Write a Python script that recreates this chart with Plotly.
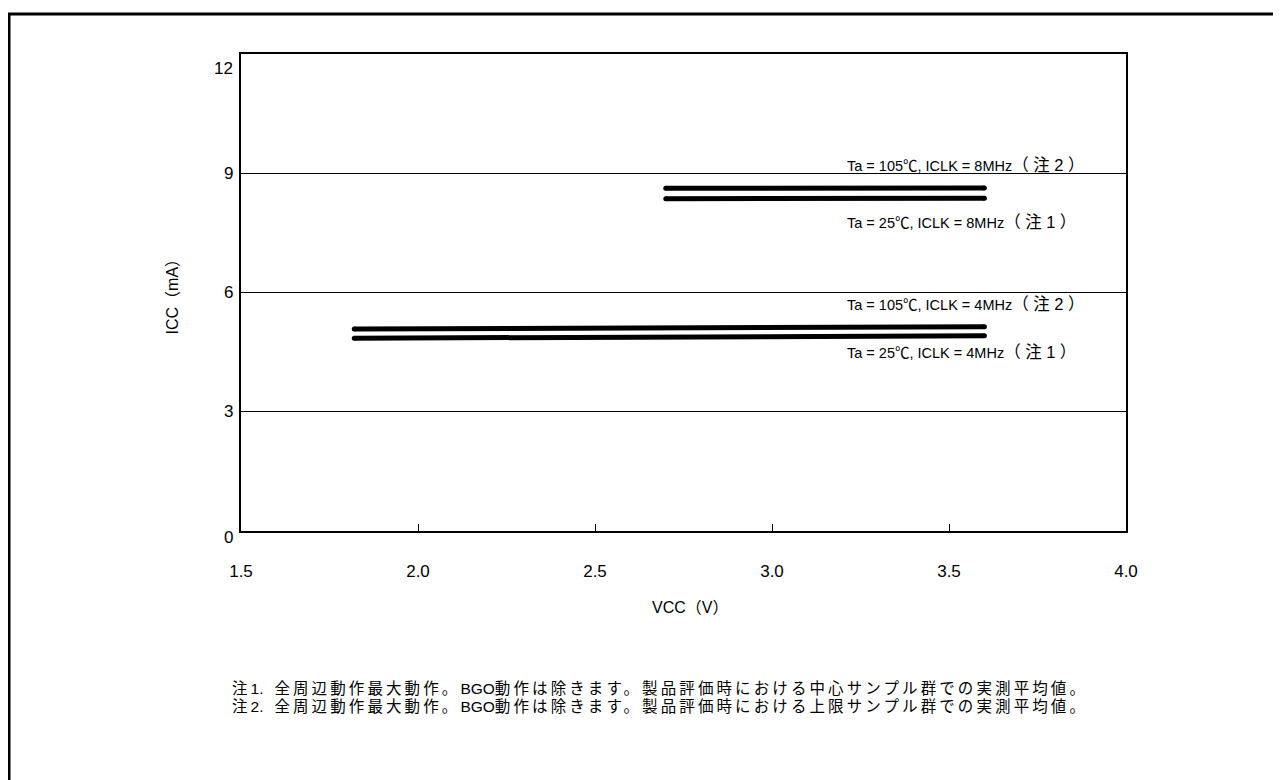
import re
import plotly.graph_objects as go

# Data
vcc_8mhz = [2.7, 3.6]
icc_105c_8mhz = [8.62, 8.63]
icc_25c_8mhz = [8.36, 8.37]

vcc_4mhz = [1.82, 3.6]
icc_105c_4mhz = [5.08, 5.14]
icc_25c_4mhz = [4.85, 4.91]

series_main = [
    "Ta = 105℃, ICLK = 8MHz",
    "Ta = 25℃, ICLK = 8MHz",
    "Ta = 105℃, ICLK = 4MHz",
    "Ta = 25℃, ICLK = 4MHz",
]
series_note = ["（注2）", "（注1）", "（注2）", "（注1）"]
label_x = [3.205, 3.205, 3.205, 3.205]
label_y = [9.2, 7.78, 5.72, 4.5]

x_ticks = [1.5, 2.0, 2.5, 3.0, 3.5, 4.0]
x_ticktext = ["1.5", "2.0", "2.5", "3.0", "3.5", "4.0"]
y_ticks = [0, 3, 6, 9, 12]
y_ticktext = ["0", "3", "6", "9", "12"]
y_tick_shift = [-6, 0, 0, 0, -14]

x_title = "VCC（V）"
y_title = "ICC（mA）"

footnotes = [
    "注1.\u2002全周辺動作最大動作。BGO動作は除きます。製品評価時における中心サンプル群での実測平均値。",
    "注2.\u2002全周辺動作最大動作。BGO動作は除きます。製品評価時における上限サンプル群での実測平均値。",
]

FONT = "Liberation Sans, Arial, Noto Sans CJK JP, sans-serif"


def space_cjk(text, spacing):
    # widen only the CJK runs, keep latin runs at normal spacing
    return re.sub(r"([^\x00-\x7f]+)",
                  lambda m: '<span style="letter-spacing:%spx">%s</span>' % (spacing, m.group(1)),
                  text)


fig = go.Figure()
for xs, ys in [(vcc_8mhz, icc_105c_8mhz), (vcc_8mhz, icc_25c_8mhz),
               (vcc_4mhz, icc_105c_4mhz), (vcc_4mhz, icc_25c_4mhz)]:
    fig.add_trace(go.Scatter(x=xs, y=ys, mode="lines+markers",
                             line=dict(color="black", width=5),
                             marker=dict(color="black", size=5, line=dict(width=0)),
                             showlegend=False, hoverinfo="skip"))

for m, n, lx, ly in zip(series_main, series_note, label_x, label_y):
    fig.add_annotation(x=lx, y=ly, xref="x", yref="y",
                       text=m + '<span style="font-size:16.5px;letter-spacing:4.5px">' + n + "</span>",
                       showarrow=False, xanchor="left", yanchor="middle",
                       font=dict(family=FONT, size=14.5, color="black"))

for v, t, s in zip(y_ticks, y_ticktext, y_tick_shift):
    fig.add_annotation(x=0, y=v, xref="paper", yref="y", text=t, showarrow=False,
                       xanchor="right", yanchor="middle", xshift=-6, yshift=s,
                       font=dict(family=FONT, size=17, color="black"))

fig.add_annotation(x=(682 - 233) / 885, y=(523 - 599) / 477, xref="paper", yref="paper",
                   text=x_title, showarrow=False, xanchor="center", yanchor="middle",
                   font=dict(family=FONT, size=16, color="black"))
fig.add_annotation(x=(164 - 233) / 885, y=0.5, xref="paper", yref="paper",
                   text=y_title, showarrow=False, xanchor="center", yanchor="middle",
                   textangle=-90, font=dict(family=FONT, size=16, color="black"))

for i, t in enumerate(footnotes):
    fig.add_annotation(x=(222 - 233) / 885, y=(523 - 680 - 18 * i) / 477,
                       xref="paper", yref="paper",
                       text=space_cjk(t, 3.1),
                       showarrow=False, xanchor="left", yanchor="middle",
                       font=dict(family=FONT, size=15.5, color="black"))

# outer frame
fig.add_shape(type="rect", xref="paper", yref="paper",
              x0=(1 - 233) / 885, x1=1.3, y0=-1.0, y1=(523 - 6) / 477,
              line=dict(color="black", width=3), fillcolor="rgba(0,0,0,0)")

fig.update_layout(
    width=1281, height=780,
    margin=dict(l=233, r=163, t=46, b=257, pad=0),
    paper_bgcolor="white", plot_bgcolor="white",
    font=dict(family=FONT, size=17, color="black"),
    xaxis=dict(range=[1.5, 4.0], tickvals=x_ticks, ticktext=x_ticktext,
               ticks="inside", ticklen=7, tickcolor="black", tickwidth=1,
               showgrid=False, zeroline=False, showline=True, linecolor="black",
               linewidth=1.5, mirror=True, ticklabelstandoff=24),
    yaxis=dict(range=[0, 12], tickvals=y_ticks, ticks="", showticklabels=False,
               showgrid=True, gridcolor="black", gridwidth=1,
               zeroline=False, showline=True, linecolor="black",
               linewidth=1.5, mirror=True),
)

fig.write_html("out.html")
